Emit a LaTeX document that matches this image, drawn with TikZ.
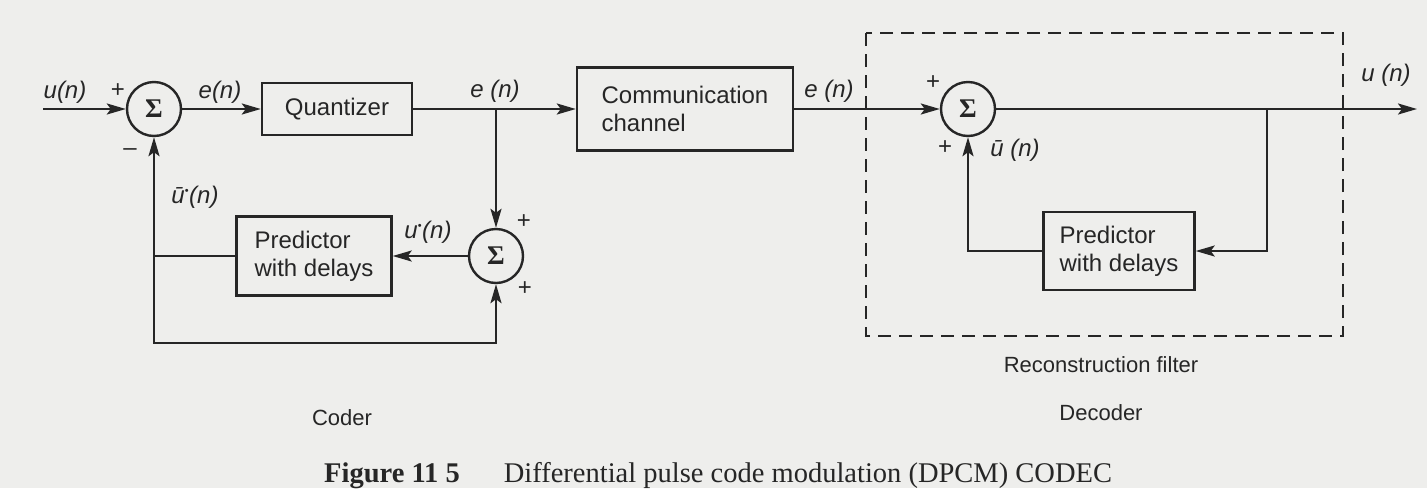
\documentclass[tikz,border=0pt]{standalone}
\usepackage{fontspec}
\setmainfont{Liberation Sans}
\newfontfamily\capfont{Liberation Serif}
\usepackage{tikz}
\usetikzlibrary{arrows.meta}
\definecolor{inkc}{HTML}{262626}
\definecolor{paperc}{HTML}{EEEEEC}
\newcommand\boxfont{\fontsize{24}{28}\selectfont}
\newcommand\sigfont{\fontsize{24}{26}\selectfont\itshape}
\newcommand\dotmark{\textsuperscript{\fontsize{11}{11}\selectfont\upshape•}}

\begin{document}
\begin{tikzpicture}[x=1pt, y=-1pt, line width=2.4pt, inkc,
  >={Stealth[length=19pt,width=11pt,inset=4pt]},
  block/.style={draw, line width=2.4pt, align=left, inner sep=0pt, font=\boxfont},
  sumnode/.style={draw, circle, line width=2.4pt, minimum size=54pt, inner sep=0pt, font=\capfont\bfseries\fontsize{27}{27}\selectfont},
  sig/.style={font=\sigfont},
  sgn/.style={font=\fontsize{24}{24}\selectfont},
  note/.style={font=\fontsize{22}{24}\selectfont}]
  \fill[paperc] (0,0) rectangle (1427,488);
  \useasboundingbox (0,0) rectangle (1427,488);

  % coder
  \coordinate (uin) at (43,109);
  \node[sumnode] (sumA) at (154,109) {Σ};
  \node[block, minimum width=150pt, minimum height=52pt] (quant) at (337,109) {Quantizer};
  \coordinate (tapA) at (496,109);
  \node[block, minimum width=216pt, minimum height=83pt] (chan) at (685,109) {Communication\\channel};
  \node[sumnode] (sumB) at (496,256) {Σ};
  \node[block, minimum width=155pt, minimum height=79pt] (predA) at (314,256) {Predictor\\with delays};
  \coordinate (loopR) at (496,343);

  \draw[->] (uin) -- (sumA);
  \draw[->] (sumA) -- (quant);
  \draw[->] (quant) -- (chan);
  \draw[->] (tapA) -- (sumB);
  \draw[->] (sumB) -- (predA);
  \draw[->] (predA.west) -| (sumA.south);
  \draw[->] (sumA |- predA.west) |- (loopR) -- (sumB.south);

  \node[sig] (lu) at (65,92) {u(n)};
  \node[sgn] (pA) at (118,91) {+};
  \node[sgn] (mA) at (130,152) {–};
  \node[sig] (le) at (220,92) {e(n)};
  \node[sig] (lpa) at (195,197) {ū\dotmark(n)};
  \node[sig] (lq) at (495,91) {e (n)};
  \node[sig] (ls) at (428,232) {u\dotmark(n)};
  \node[sgn] (pB) at (524,222) {+};
  \node[sgn] (pC) at (525,289) {+};

  % decoder
  \draw[dash pattern=on 13pt off 8pt, line width=1.8pt] (866,33) rectangle (1343,336);
  \node[sumnode] (sumC) at (968,109) {Σ};
  \node[block, minimum width=151pt, minimum height=78pt] (predB) at (1119,251) {Predictor\\with delays};
  \coordinate (tapB) at (1267,109);
  \coordinate (uout) at (1417,109);

  \draw[->] (chan) -- (sumC);
  \draw[->] (sumC) -- (uout);
  \draw[->] (tapB) |- (predB.east);
  \draw[->] (predB.west) -| (sumC.south);

  \node[sig] (lr) at (829,91) {e (n)};
  \node[sgn] (pD) at (933,83) {+};
  \node[sgn] (pE) at (945,148) {+};
  \node[sig] (lpb) at (1015,150) {ū (n)};
  \node[sig] (lo) at (1386,75) {u (n)};

  \node[note] (recon) at (1101,365) {Reconstruction filter};
  \node[note] (coder) at (342,418) {Coder};
  \node[note] (decoder) at (1101,413) {Decoder};
  \node[anchor=base west, inner sep=0pt, font=\capfont\fontsize{28.5}{30}\selectfont] (caption) at (323,482)
    {\textbf{Figure 11 5}\hspace{44pt}Differential pulse code modulation (DPCM) CODEC};
\end{tikzpicture}
\end{document}
